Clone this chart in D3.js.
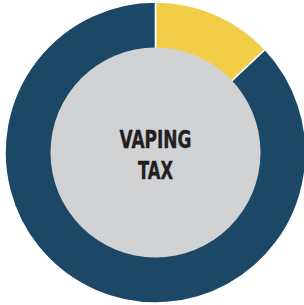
<!DOCTYPE html>
<html>
<head>
<meta charset="utf-8">
<script src="https://d3js.org/d3.v7.min.js"></script>
<style>
  body { margin: 0; background: #fff; }
</style>
</head>
<body>
<div id="chart"></div>
<script>
  // share of the ring: the tax slice, then the rest
  const labels = ["Vaping tax", "Other"];
  const values = [13, 87];
  const colors = ["#f2ce48", "#1d4767"];
  const titleLines = ["VAPING", "TAX"];

  const w = 304, h = 305;
  const cx = 155.5, cy = 152.5;
  const outerR = 150.5, innerR = 105;

  const svg = d3.select("#chart").append("svg")
      .attr("width", w)
      .attr("height", h);

  const g = svg.append("g").attr("transform", "translate(" + cx + "," + cy + ")");

  const pie = d3.pie().sort(null).value(d => d);
  const arc = d3.arc().innerRadius(innerR - 2).outerRadius(outerR);

  g.selectAll("path.slice")
    .data(pie(values))
    .enter()
    .append("path")
      .attr("class", "slice")
      .attr("d", arc)
      .attr("fill", (d, i) => colors[i])
      .attr("stroke", "#fff")
      .attr("stroke-width", 1.6);

  // grey centre disc
  g.append("circle")
    .attr("r", innerR)
    .attr("fill", "#d1d2d4");

  const lineY = [-14, 17];
  g.selectAll("text.title")
    .data(titleLines)
    .enter()
    .append("text")
      .attr("class", "title")
      .attr("x", 0)
      .attr("y", (d, i) => lineY[i])
      .attr("dy", "0.36em")
      .attr("text-anchor", "middle")
      .attr("font-family", "'Liberation Sans Narrow', 'DejaVu Sans Condensed', sans-serif")
      .attr("font-weight", "bold")
      .attr("font-size", "25px")
      .attr("fill", "#231f20")
      .attr("stroke", "#231f20")
      .attr("stroke-width", 0.4)
      .attr("textLength", (d, i) => i === 0 ? 72 : 35)
      .attr("lengthAdjust", "spacingAndGlyphs")
      .text(d => d);
</script>
</body>
</html>
